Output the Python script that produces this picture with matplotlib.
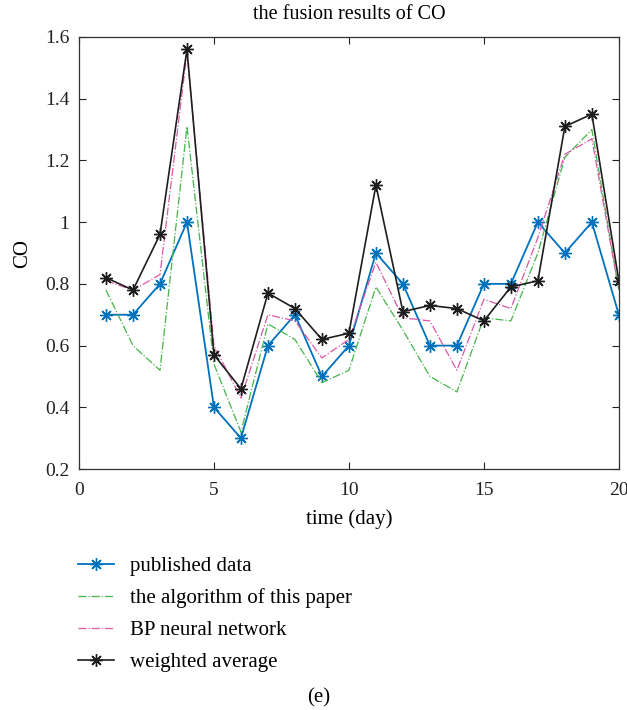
import matplotlib
matplotlib.use("Agg")
import matplotlib.pyplot as plt
from matplotlib.ticker import FuncFormatter

# ---------------------------------------------------------------------------
# Data
# ---------------------------------------------------------------------------

days = list(range(1, 21))

published = [0.70, 0.70, 0.80, 1.00, 0.40, 0.30, 0.60, 0.70, 0.50, 0.60,
             0.90, 0.80, 0.60, 0.60, 0.80, 0.80, 1.00, 0.90, 1.00, 0.70]

algorithm = [0.78, 0.60, 0.52, 1.31, 0.54, 0.32, 0.67, 0.62, 0.48, 0.52,
             0.79, 0.65, 0.50, 0.45, 0.69, 0.68, 0.90, 1.21, 1.30, 0.78]

bp_network = [0.81, 0.78, 0.83, 1.55, 0.60, 0.43, 0.70, 0.68, 0.56, 0.62,
              0.87, 0.69, 0.68, 0.52, 0.75, 0.72, 0.95, 1.22, 1.27, 0.78]

weighted = [0.82, 0.78, 0.96, 1.56, 0.57, 0.46, 0.77, 0.72, 0.62, 0.64,
            1.12, 0.71, 0.73, 0.72, 0.68, 0.79, 0.81, 1.31, 1.35, 0.81]

labels = ["published data", "the algorithm of this paper",
          "BP neural network", "weighted average"]

# ---------------------------------------------------------------------------
# Plot
# ---------------------------------------------------------------------------

plt.rcParams["font.family"] = ["Liberation Serif", "DejaVu Serif"]
plt.rcParams["font.size"] = 14

fig = plt.figure(figsize=(6.27, 7.10), dpi=100)
ax = fig.add_axes([0.126, 0.3394, 0.861, 0.6085])

asterisk = (8, 2, 0)  # MATLAB-style '*' marker
ax.plot(days, published, color="#0072BD", lw=1.3, marker=asterisk, ms=9,
        markeredgewidth=1.0, label=labels[0])
ax.plot(days, algorithm, color="#44B549", lw=0.9, linestyle="-.",
        label=labels[1])
ax.plot(days, bp_network, color="#DB58A6", lw=0.9, linestyle="-.",
        label=labels[2])
ax.plot(days, weighted, color="#1E1E1E", lw=1.2, marker=asterisk, ms=9,
        markeredgewidth=1.0, label=labels[3])

ax.set_xlim(0, 20)
ax.set_ylim(0.2, 1.6)
ax.set_xticks([0, 5, 10, 15, 20])
ax.set_yticks([0.2, 0.4, 0.6, 0.8, 1.0, 1.2, 1.4, 1.6])
ax.yaxis.set_major_formatter(FuncFormatter(lambda v, _: f"{v:g}"))
ax.tick_params(direction="in", top=True, right=True, length=5, width=0.8,
               labelsize=14, colors="#222222")
ax.tick_params(axis="y", pad=7)
ax.tick_params(axis="x", pad=9)
for s in ax.spines.values():
    s.set_linewidth(0.9)
    s.set_color("#333333")

ax.set_xlabel("time (day)", fontsize=15, labelpad=8)
ax.set_ylabel("CO", fontsize=15, labelpad=9)
ax.set_title("the fusion results of CO", fontsize=14.5, pad=13)

fig.legend(loc="upper left", bbox_to_anchor=(0.094, 0.243), frameon=False,
           fontsize=15, handlelength=1.75, labelspacing=0.6,
           handletextpad=0.75)

fig.text(0.508, 0.011, "(e)", fontsize=15, ha="center")

fig.savefig("out.png", dpi=100)
